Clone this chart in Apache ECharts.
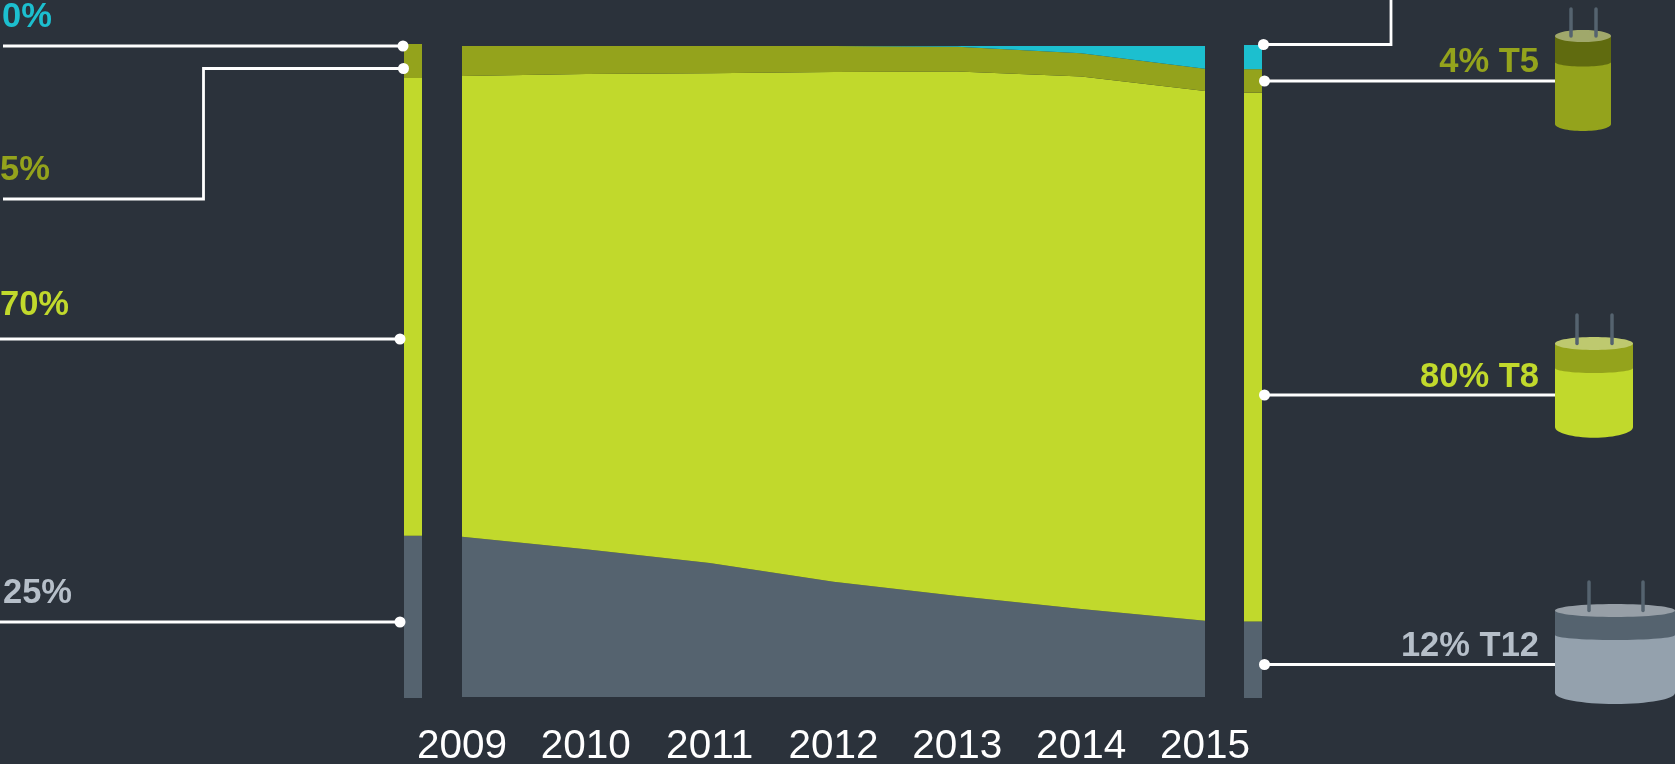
<!DOCTYPE html>
<html>
	<head>
		<meta charset="utf-8">
		<title>Lamp share 2009-2015</title>
		<script src="https://cdn.jsdelivr.net/npm/echarts@6/dist/echarts.min.js"></script>
		<style>
			html, body { margin: 0; padding: 0; background: #2b323b; }
		</style>
	</head>
	<body>
		<div id="main" style="width: 1675px;height:764px;"></div>

		<script type="text/javascript">
			// data, share in percent
			var years = ['2009', '2010', '2011', '2012', '2013', '2014', '2015'];
			var t12 = [24.6, 22.7, 20.6, 17.7, 15.5, 13.5, 11.7];
			var t8 = [70.8, 73.0, 75.2, 78.3, 80.6, 81.8, 81.4];
			var t5 = [4.6, 4.3, 4.2, 4.0, 3.8, 3.6, 3.4];
			var other = [0, 0, 0, 0, 0.1, 1.1, 3.5];

			// side bars, bottom to top: t12, t8, t5, other
			var barLeft = [24.8, 70.0, 5.2, 0];
			var barRight = [11.7, 81.0, 3.6, 3.7];

			var labelsLeft = ['0%', '5%', '70%', '25%'];
			var labelsRight = ['4% T5', '80% T8', '12% T12'];

			var BG = '#2b323b';
			var SLATE = '#55636f';
			var LIME = '#c1d92c';
			var OLIVE = '#94a31c';
			var CYAN = '#1cbfcf';
			var GREY = '#b6bfc9';
			var FONT = '"Liberation Sans", Arial, sans-serif';

			function area(name, values, color) {
				return {
					name: name,
					type: 'line',
					stack: 'share',
					data: values,
					xAxisIndex: 0,
					yAxisIndex: 0,
					symbol: 'none',
					lineStyle: { width: 0 },
					areaStyle: { color: color, opacity: 1 }
				};
			}

			function barPiece(value, color, index) {
				return {
					type: 'bar',
					stack: 'bar' + index,
					data: [value],
					xAxisIndex: index,
					yAxisIndex: index,
					barWidth: '100%',
					itemStyle: { color: color }
				};
			}

			function sideBar(values, index) {
				var colors = [SLATE, LIME, OLIVE, CYAN];
				return values.map(function (v, i) {
					return barPiece(v, colors[i], index);
				});
			}

			// callout text
			function label(text, x, y, color, align) {
				return {
					type: 'text',
					z: 20,
					x: x,
					y: y,
					style: {
						text: text,
						fill: color,
						font: 'bold 34.5px ' + FONT,
						align: align || 'left',
						verticalAlign: 'middle'
					}
				};
			}

			// leader line with its dot at the bar end
			function leader(points, dotX, dotY) {
				return [{
					type: 'polyline',
					z: 20,
					shape: { points: points },
					style: { stroke: '#fff', lineWidth: 2.8, fill: null }
				}, {
					type: 'circle',
					z: 21,
					shape: { cx: dotX, cy: dotY, r: 5.5 },
					style: { fill: '#fff' }
				}];
			}

			// small lamp drawing next to the right labels
			function lamp(x, w, topY, ry, bandY, bottomY, bottomRy, pinA, pinB, pinTop, top, band, body) {
				var cx = x + w / 2;
				var parts = [
					{ type: 'ellipse', shape: { cx: cx, cy: bottomY, rx: w / 2, ry: bottomRy }, style: { fill: body } },
					{ type: 'rect', shape: { x: x, y: bandY, width: w, height: bottomY - bandY }, style: { fill: body } },
					{ type: 'ellipse', shape: { cx: cx, cy: bandY, rx: w / 2, ry: ry - 1.5 }, style: { fill: band } },
					{ type: 'rect', shape: { x: x, y: topY, width: w, height: bandY - topY }, style: { fill: band } },
					{ type: 'ellipse', shape: { cx: cx, cy: topY, rx: w / 2, ry: ry }, style: { fill: top } }
				];
				[pinA, pinB].forEach(function (px) {
					parts.push({
						type: 'line',
						shape: { x1: px, y1: pinTop, x2: px, y2: topY },
						style: { stroke: SLATE, lineWidth: 3.5, lineCap: 'round' }
					});
				});
				parts.forEach(function (p) { p.z = 15; });
				return parts;
			}

			var graphics = [
				label(labelsLeft[0], 2, 17, CYAN),
				label(labelsLeft[1], 0, 170, OLIVE),
				label(labelsLeft[2], 0, 305, LIME),
				label(labelsLeft[3], 3, 593, GREY),
				label(labelsRight[0], 1539, 62, OLIVE, 'right'),
				label(labelsRight[1], 1539, 377, LIME, 'right'),
				label(labelsRight[2], 1539, 646, GREY, 'right')
			].concat(
				leader([[3, 46], [403, 46]], 403, 46),
				leader([[3, 199], [203.5, 199], [203.5, 68.5], [403, 68.5]], 403.5, 68.5),
				leader([[0, 339], [400, 339]], 400, 339),
				leader([[0, 622], [400, 622]], 400, 622),
				leader([[1263, 44.5], [1391, 44.5], [1391, 0]], 1263.5, 44.5),
				leader([[1264, 81], [1555, 81]], 1264.5, 81),
				leader([[1264, 395], [1555, 395]], 1264.5, 395),
				leader([[1264, 664.5], [1555, 664.5]], 1264.5, 664.5),
				lamp(1555, 56, 36, 6, 62, 124, 7, 1571, 1596, 9, '#a0a86b', '#606b0f', OLIVE),
				lamp(1555, 78, 343.5, 6.5, 368, 427, 10.7, 1577, 1612, 315, '#bec96f', OLIVE, LIME),
				lamp(1555, 120, 610.5, 6.5, 635, 693, 11, 1589, 1643, 582, '#979fa7', SLATE, '#94a1ad')
			);

			var myChart = echarts.init(document.getElementById('main'));
			var option = {
				animation: false,
				backgroundColor: BG,
				grid: [
					{ left: 462, top: 46, width: 743, height: 651, outerBoundsMode: 'none' },
					{ left: 404, top: 44, width: 18, height: 654, outerBoundsMode: 'none' },
					{ left: 1244, top: 45, width: 18, height: 653, outerBoundsMode: 'none' }
				],
				xAxis: [
					{
						type: 'category',
						gridIndex: 0,
						data: years,
						boundaryGap: false,
						axisLine: { show: false },
						axisTick: { show: false },
						splitLine: { show: false },
						axisLabel: {
							color: '#fff',
							fontFamily: 'Liberation Sans',
							fontSize: 40.5,
							margin: 29,
							interval: 0,
							hideOverlap: false
						}
					},
					{ type: 'category', gridIndex: 1, data: ['left'], show: false },
					{ type: 'category', gridIndex: 2, data: ['right'], show: false }
				],
				yAxis: [
					{ type: 'value', gridIndex: 0, min: 0, max: 100, show: false },
					{ type: 'value', gridIndex: 1, min: 0, max: 100, show: false },
					{ type: 'value', gridIndex: 2, min: 0, max: 100, show: false }
				],
				series: [
					area('T12', t12, SLATE),
					area('T8', t8, LIME),
					area('T5', t5, OLIVE),
					area('Other', other, CYAN)
				].concat(sideBar(barLeft, 1), sideBar(barRight, 2)),
				graphic: { elements: graphics }
			};

			myChart.setOption(option);
		</script>
	</body>
</html>
